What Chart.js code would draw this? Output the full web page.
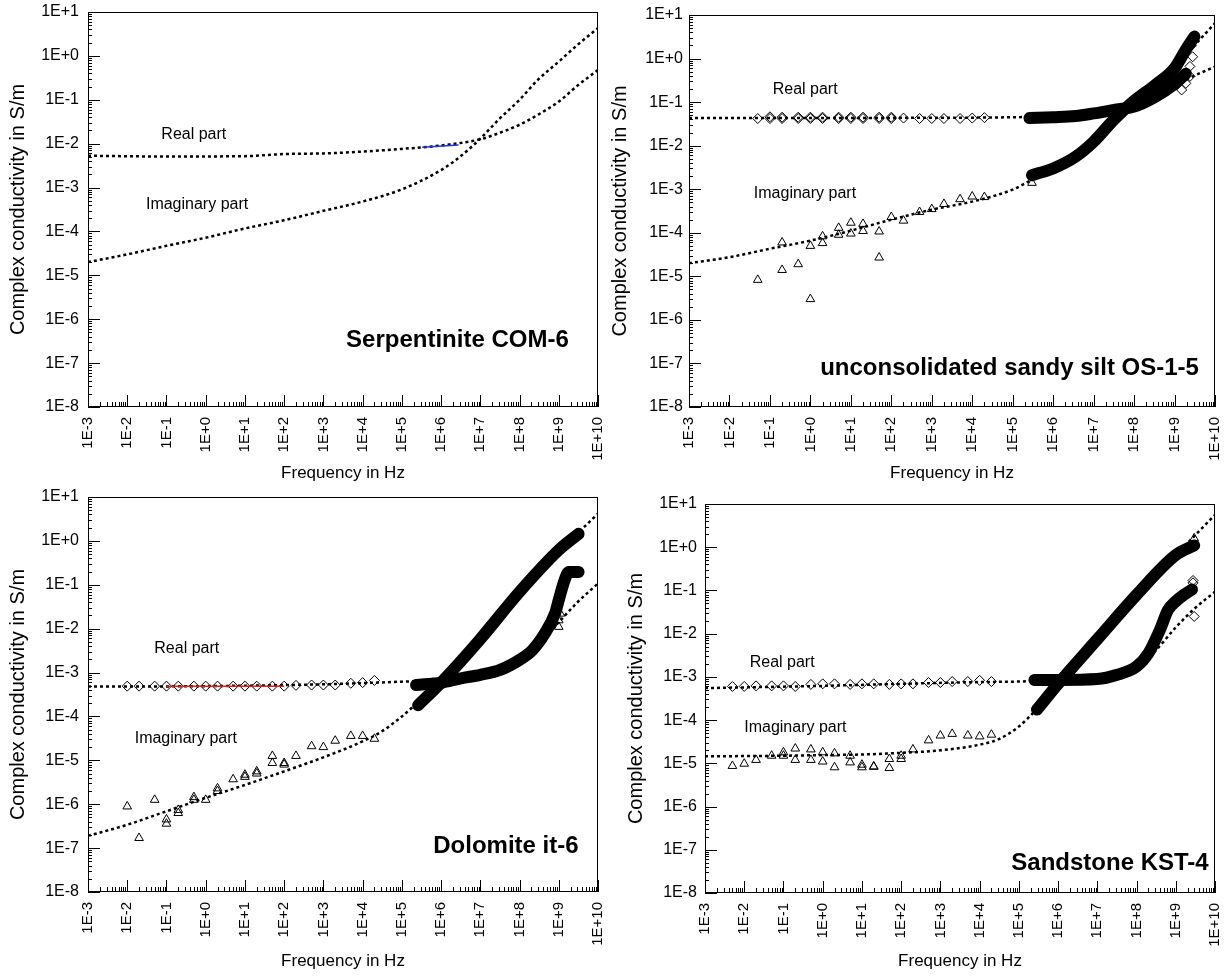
<!DOCTYPE html>
<html>
<head>
<meta charset="utf-8">
<title>Complex conductivity spectra</title>
<script src="https://cdn.jsdelivr.net/npm/chart.js@4.4.1/dist/chart.umd.min.js"></script>
<style>
  html, body { margin: 0; padding: 0; background: #fff; }
  #wrap { position: relative; width: 1229px; height: 977px; overflow: hidden; background: #fff; }
  #wrap canvas { position: absolute; left: 0; top: 0; }
</style>
</head>
<body>
<div id="wrap">
  <canvas id="c-ser" width="1229" height="977"></canvas>
  <canvas id="c-os" width="1229" height="977"></canvas>
  <canvas id="c-dol" width="1229" height="977"></canvas>
  <canvas id="c-kst" width="1229" height="977"></canvas>
</div>
<script>
/* ================================================================
   Complex conductivity vs frequency — four rock samples
   ================================================================ */

// ── Axis ticks ────────────────────────────────────────────────────
const X_DECADES = [1e-3, 1e-2, 1e-1, 1e0, 1e1, 1e2, 1e3, 1e4, 1e5, 1e6, 1e7, 1e8, 1e9, 1e10];
const Y_DECADES = [1e-8, 1e-7, 1e-6, 1e-5, 1e-4, 1e-3, 1e-2, 1e-1, 1e0, 1e1];

// ── Serpentinite COM-6 ────────────────────────────────────────────
const SER_FIT_RE_F = [1e-3, 1e-1, 1e1, 1e2, 1e3, 1e4, 1e5, 1e6, 1e7, 3e7, 1e8, 3e8, 1e9, 3e9, 1e10];
const SER_FIT_RE   = [5.3e-3, 5.1e-3, 5.2e-3, 5.8e-3, 6.0e-3, 6.6e-3, 7.6e-3, 9.1e-3, 1.26e-2, 1.74e-2, 2.7e-2, 4.6e-2, 9.1e-2, 0.21, 0.48];
const SER_FIT_IM_F = [1e-3, 1e-2, 1e-1, 1e0, 1e1, 1e2, 1e3, 1e4, 1e5, 1e6, 3e6, 1e7, 3e7, 1e8, 3e8, 1e9, 3e9, 1e10];
const SER_FIT_IM   = [2.0e-5, 3.0e-5, 4.7e-5, 7.2e-5, 1.17e-4, 1.8e-4, 2.95e-4, 4.8e-4, 9.1e-4, 2.5e-3, 5.0e-3, 1.3e-2, 3.6e-2, 0.1, 0.29, 0.74, 1.78, 4.3];
const SER_MEAS_F   = [3.3e5, 2.8e6];
const SER_MEAS     = [8.3e-3, 9.3e-3];

// ── Unconsolidated sandy silt OS-1-5 ──────────────────────────────
const OS_FREQ      = [0.05, 0.1, 0.2, 0.5, 1, 2, 5, 10, 20, 50, 100, 200, 500, 1000, 2000, 5000, 10000, 20000];
const OS_RE        = [0.042, 0.046, 0.045, 0.045, 0.045, 0.045, 0.045, 0.045, 0.045, 0.045, 0.045, 0.043, 0.042, 0.042, 0.042, 0.042, 0.043, 0.044];
const OS_RE2_F     = [0.1, 0.2, 0.5, 1, 2, 5, 10, 20, 50, 100];
const OS_RE2       = [0.042, 0.042, 0.042, 0.042, 0.042, 0.042, 0.042, 0.042, 0.042, 0.042];
const OS_IM_F      = [0.05, 0.2, 0.5, 1, 2, 5, 10, 20, 50, 100, 200, 500, 1000, 2000, 5000, 10000, 20000, 3.0e5];
const OS_IM        = [8.3e-6, 1.4e-5, 1.9e-5, 3.0e-6, 5.8e-5, 9.0e-5, 9.6e-5, 1.1e-4, 2.7e-5, 2.3e-4, 1.9e-4, 3.0e-4, 3.5e-4, 4.6e-4, 5.9e-4, 6.8e-4, 6.6e-4, 1.4e-3];
const OS_IM2_F     = [0.2, 1, 2, 5, 10, 20, 50];
const OS_IM2       = [6.0e-5, 5.0e-5, 8.3e-5, 1.3e-4, 1.7e-4, 1.6e-4, 1.07e-4];
const OS_BAND_RE_F = [2.6e5, 1e6, 3.6e6, 1e7, 3.2e7, 1e8, 3.2e8, 1e9, 1.9e9];
const OS_BAND_RE   = [0.043, 0.045, 0.048, 0.055, 0.066, 0.079, 0.13, 0.26, 0.45];
const OS_BAND_IM_F = [3.0e5, 1e6, 3.6e6, 1e7, 3.2e7, 1e8, 3.2e8, 1e9, 1.9e9, 3.1e9];
const OS_BAND_IM   = [2.1e-3, 3.0e-3, 5.6e-3, 1.23e-2, 4.0e-2, 0.107, 0.24, 0.60, 1.6, 3.2];
const OS_END_RE_F  = [1.5e9, 1.9e9, 2.4e9, 2.4e9, 2.8e9, 2.6e9];
const OS_END_RE    = [0.19, 0.27, 0.39, 0.66, 1.1, 2.0];
const OS_FIT_RE_F  = [1e-3, 1e4, 1e5, 1e6, 1e7, 3e7, 1e8, 3e8, 1e9, 3e9, 1e10];
const OS_FIT_RE    = [0.043, 0.044, 0.045, 0.047, 0.055, 0.066, 0.089, 0.14, 0.24, 0.40, 0.65];
const OS_FIT_IM_F  = [1e-3, 1e-2, 1e-1, 1e0, 1e1, 1e2, 1e3, 1e4, 1e5, 3e5, 1e6, 1e7, 1e8, 1e9, 1e10];
const OS_FIT_IM    = [2.0e-5, 2.75e-5, 4.3e-5, 6.6e-5, 1.12e-4, 2.0e-4, 3.4e-4, 5.2e-4, 9.8e-4, 1.66e-3, 3.0e-3, 1.35e-2, 7.9e-2, 0.65, 6.5];

// ── Dolomite it-6 ─────────────────────────────────────────────────
const DOL_FREQ      = [0.01, 0.02, 0.05, 0.1, 0.2, 0.5, 1, 2, 5, 10, 20, 50, 100, 200, 500, 1000, 2000, 5000, 10000, 20000];
const DOL_RE        = [4.9e-4, 4.9e-4, 4.9e-4, 4.9e-4, 4.9e-4, 4.9e-4, 4.9e-4, 4.9e-4, 4.9e-4, 4.9e-4, 4.9e-4, 4.9e-4, 4.9e-4, 5.1e-4, 5.2e-4, 5.2e-4, 5.2e-4, 5.7e-4, 5.9e-4, 6.6e-4];
const DOL_IM        = [8.9e-7, 1.7e-7, 1.26e-6, 4.5e-7, 7.4e-7, 1.26e-6, 1.26e-6, 2.3e-6, 3.7e-6, 4.7e-6, 5.6e-6, 1.26e-5, 8.7e-6, 1.26e-5, 2.1e-5, 2.0e-5, 2.8e-5, 3.6e-5, 3.6e-5, 3.1e-5];
const DOL_IM2_F     = [0.1, 0.2, 0.5, 2, 10, 20, 50, 100, 1.0e9, 1.0e9, 1.1e9];
const DOL_IM2       = [3.6e-7, 6.3e-7, 1.45e-6, 2.0e-6, 4.2e-6, 5.0e-6, 8.7e-6, 8.0e-6, 0.011, 0.0155, 0.022];
const DOL_MEAS_F    = [0.1, 100];
const DOL_MEAS      = [4.9e-4, 4.9e-4];
const DOL_BAND_RE_F = [2.3e5, 1e6, 3.2e6, 1e7, 3.2e7, 1e8, 2.1e8, 4.4e8, 8e8, 1e9, 1.4e9, 1.8e9, 3.2e9];
const DOL_BAND_RE   = [5.2e-4, 5.9e-4, 7.4e-4, 8.9e-4, 1.15e-3, 1.95e-3, 3.2e-3, 7.8e-3, 2.2e-2, 4.5e-2, 0.126, 0.195, 0.195];
const DOL_BAND_IM_F = [2.6e5, 1e6, 1e7, 1e8, 1e9, 3.2e9];
const DOL_BAND_IM   = [1.8e-4, 5.9e-4, 5.8e-3, 6.9e-2, 0.62, 1.45];
const DOL_FIT_RE_F  = [1e-3, 1e0, 1e3, 1e4, 1e5, 1e6, 1e7, 3e7, 1e8, 3e8, 1e9, 3e9, 1e10];
const DOL_FIT_RE    = [4.8e-4, 4.9e-4, 5.4e-4, 5.75e-4, 6.2e-4, 6.8e-4, 8.9e-4, 1.26e-3, 2.0e-3, 4.5e-3, 1.4e-2, 4.0e-2, 0.107];
const DOL_FIT_IM_F  = [1e-3, 1e-2, 1e-1, 1e0, 1e1, 1e2, 1e3, 1e4, 3e4, 1e5, 3e5, 1e6, 1e7, 1e8, 1e9, 1e10];
const DOL_FIT_IM    = [1.9e-7, 3.4e-7, 6.9e-7, 1.4e-6, 2.75e-6, 5.6e-6, 1.17e-5, 2.7e-5, 4.5e-5, 1.0e-4, 2.4e-4, 6.8e-4, 6.6e-3, 6.9e-2, 0.56, 4.2];

// ── Sandstone KST-4 ───────────────────────────────────────────────
const KST_FREQ      = [0.005, 0.01, 0.02, 0.05, 0.1, 0.2, 0.5, 1, 2, 5, 10, 20, 50, 100, 200, 500, 1000, 2000, 5000, 10000, 20000];
const KST_RE        = [6.0e-4, 6.0e-4, 6.2e-4, 6.2e-4, 6.2e-4, 6.0e-4, 6.7e-4, 6.9e-4, 6.9e-4, 6.7e-4, 6.9e-4, 6.9e-4, 6.7e-4, 6.9e-4, 6.9e-4, 7.4e-4, 7.4e-4, 7.8e-4, 7.8e-4, 8.3e-4, 7.8e-4];
const KST_IM        = [8.7e-6, 9.8e-6, 1.2e-5, 1.5e-5, 1.5e-5, 2.2e-5, 2.1e-5, 1.8e-5, 1.7e-5, 1.5e-5, 9.3e-6, 8.5e-6, 1.26e-5, 1.5e-5, 2.1e-5, 3.4e-5, 4.4e-5, 4.8e-5, 4.4e-5, 4.2e-5, 4.6e-5];
const KST_IM2_F     = [0.1, 0.2, 0.5, 1, 2, 5, 10, 20, 50, 100];
const KST_IM2       = [1.8e-5, 1.2e-5, 1.2e-5, 1.1e-5, 8.1e-6, 1.05e-5, 8.1e-6, 8.3e-6, 7.8e-6, 1.26e-5];
const KST_BAND_RE_F = [2.5e5, 1e6, 1e7, 3.2e7, 1e8, 2e8, 4e8, 6.3e8, 1e9, 1.6e9, 2.6e9];
const KST_BAND_RE   = [8.5e-4, 8.5e-4, 8.9e-4, 1.12e-3, 1.74e-3, 3.5e-3, 1.26e-2, 3.5e-2, 5.6e-2, 7.9e-2, 0.105];
const KST_BAND_IM_F = [2.9e5, 1e6, 1e7, 1e8, 1e9, 2.95e9];
const KST_BAND_IM   = [1.75e-4, 6.9e-4, 7.4e-3, 7.9e-2, 0.66, 1.1];
const KST_END_RE_F  = [2.75e9, 2.75e9, 2.95e9];
const KST_END_RE    = [0.15, 0.17, 0.025];
const KST_END_IM_F  = [2.95e9];
const KST_END_IM    = [1.6];
const KST_FIT_RE_F  = [1e-3, 1e0, 1e2, 1e4, 1e5, 1e6, 1e7, 1e8, 3e8, 1e9, 3e9, 1e10];
const KST_FIT_RE    = [5.5e-4, 6.2e-4, 6.9e-4, 7.6e-4, 7.8e-4, 8.5e-4, 9.3e-4, 1.74e-3, 4.0e-3, 1.4e-2, 3.8e-2, 9.3e-2];
const KST_FIT_IM_F  = [1e-3, 1e-1, 1e0, 1e1, 1e2, 1e3, 1e4, 3e4, 1e5, 3e5, 1e6, 1e7, 1e8, 1e9, 1e10];
const KST_FIT_IM    = [1.45e-5, 1.5e-5, 1.55e-5, 1.6e-5, 1.75e-5, 2.0e-5, 2.7e-5, 3.6e-5, 7.1e-5, 1.9e-4, 7.2e-4, 7.9e-3, 7.9e-2, 0.66, 5.6];

// ── Helpers ───────────────────────────────────────────────────────
const FONT = '"Liberation Sans", Arial, Helvetica, sans-serif';
Chart.defaults.font.family = FONT;
Chart.defaults.color = "#000";

function pts(xs, ys) {
  return xs.map((x, i) => ({ x, y: ys[i] }));
}

function expLabel(v) {
  const e = Math.round(Math.log10(v));
  return "1E" + (e < 0 ? "-" : "+") + Math.abs(e);
}

function fit(xs, ys) {
  return {
    data: pts(xs, ys), showLine: true, borderColor: "#000", borderWidth: 2.5,
    borderDash: [3, 3], pointRadius: 0, cubicInterpolationMode: "monotone",
  };
}

// dense high-frequency measurements: overlapping markers read as one heavy band
function band(xs, ys) {
  return {
    data: pts(xs, ys), showLine: true, borderColor: "#000", borderWidth: 12,
    borderCapStyle: "round", borderJoinStyle: "round", pointRadius: 0,
    cubicInterpolationMode: "monotone",
  };
}

function meas(xs, ys, color) {
  return { data: pts(xs, ys), showLine: true, borderColor: color, borderWidth: 1.5, pointRadius: 0 };
}

function marks(xs, ys, style) {
  return {
    data: pts(xs, ys), showLine: false, pointStyle: style, pointRadius: 5,
    pointBorderWidth: 1, pointBorderColor: "#000", pointBackgroundColor: "rgba(0,0,0,0)",
  };
}

// ── Frame, inward ticks and in-plot labels ────────────────────────
const frameTicks = {
  id: "frameTicks",
  afterDatasetsDraw(chart, args, opts) {
    const { ctx, chartArea: a, scales: { x, y } } = chart;
    ctx.save();
    ctx.strokeStyle = "#000";
    ctx.lineWidth = 1;
    ctx.strokeRect(a.left + 0.5, a.top + 0.5, a.right - a.left - 1, a.bottom - a.top - 1);

    ctx.beginPath();
    for (let e = -3; e <= 10; e++) {
      for (let m = 1; m <= 9; m++) {
        const v = m * Math.pow(10, e);
        if (v > 1e10 * 1.0001) break;
        const px = Math.round(x.getPixelForValue(v)) + 0.5;
        const len = m === 1 ? 12 : 5;
        ctx.moveTo(px, a.bottom);
        ctx.lineTo(px, a.bottom - len);
      }
    }
    for (let e = -8; e <= 1; e++) {
      for (let m = 1; m <= 9; m++) {
        const v = m * Math.pow(10, e);
        if (v > 10 * 1.0001) break;
        const py = Math.round(y.getPixelForValue(v)) + 0.5;
        const len = m === 1 ? 12 : 4;
        ctx.moveTo(a.left, py);
        ctx.lineTo(a.left + len, py);
      }
    }
    ctx.stroke();

    ctx.fillStyle = "#000";
    ctx.textBaseline = "middle";
    (opts.labels || []).forEach((l) => {
      ctx.font = (l.bold ? "bold " : "") + l.size + "px " + FONT;
      ctx.textAlign = l.align;
      ctx.fillText(l.text, x.getPixelForValue(l.x), y.getPixelForValue(l.y));
    });
    ctx.restore();
  },
};

// ── Panel builder ─────────────────────────────────────────────────
function makePanel(id, p) {
  const yw = p.area.left - p.padLeft;
  new Chart(document.getElementById(id), {
    type: "scatter",
    data: { datasets: p.datasets },
    options: {
      responsive: false,
      animation: false,
      events: [],
      layout: {
        padding: {
          left: p.padLeft,
          top: p.area.top,
          right: 1229 - p.area.right,
          bottom: 977 - p.area.bottom - p.xh,
        },
      },
      plugins: {
        legend: { display: false },
        tooltip: { enabled: false },
        frameTicks: { labels: p.labels },
      },
      scales: {
        x: {
          type: "logarithmic",
          position: "bottom",
          min: 1e-3,
          max: 1e10,
          grid: { display: false, drawTicks: false },
          border: { display: false },
          afterBuildTicks: (s) => { s.ticks = X_DECADES.map((v) => ({ value: v })); },
          afterFit: (s) => { s.height = p.xh; s.paddingLeft = 0; s.paddingRight = 0; },
          ticks: {
            autoSkip: false, minRotation: 90, maxRotation: 90, padding: 10,
            color: "#000", font: { size: 15 }, callback: (v) => expLabel(v),
          },
          title: {
            display: true, text: "Frequency in Hz", color: "#000",
            font: { size: 17 }, padding: { top: 0, bottom: 0 },
          },
        },
        y: {
          type: "logarithmic",
          position: "left",
          min: 1e-8,
          max: 10,
          grid: { display: false, drawTicks: false },
          border: { display: false },
          afterBuildTicks: (s) => { s.ticks = Y_DECADES.map((v) => ({ value: v })); },
          afterFit: (s) => { s.width = yw; s.paddingTop = 0; s.paddingBottom = 0; },
          ticks: {
            autoSkip: false, padding: p.yTickPad,
            color: "#000", font: { size: 16 }, callback: (v) => expLabel(v),
          },
          title: {
            display: true, text: "Complex conductivity in S/m", color: "#000",
            font: { size: 20 }, padding: { top: p.yTitlePad, bottom: 0 },
          },
        },
      },
    },
    plugins: [frameTicks],
  });
}

// ── Panels ────────────────────────────────────────────────────────
makePanel("c-ser", {
  area: { left: 88, top: 12, right: 598, bottom: 407 },
  padLeft: 0, yTitlePad: 6, yTickPad: 9, xh: 77,
  datasets: [
    meas(SER_MEAS_F, SER_MEAS, "#2233dd"),
    fit(SER_FIT_RE_F, SER_FIT_RE),
    fit(SER_FIT_IM_F, SER_FIT_IM),
  ],
  labels: [
    { text: "Real part", x: 0.074, y: 0.0158, align: "left", size: 16 },
    { text: "Imaginary part", x: 0.030, y: 4.0e-4, align: "left", size: 16 },
    { text: "Serpentinite COM-6", x: 1.8e9, y: 3.3e-7, align: "right", size: 24, bold: true },
  ],
});

makePanel("c-os", {
  area: { left: 689, top: 15, right: 1215, bottom: 407 },
  padLeft: 600, yTitlePad: 8, yTickPad: 6, xh: 77,
  datasets: [
    marks(OS_FREQ, OS_RE, "rectRot"),
    marks(OS_RE2_F, OS_RE2, "rectRot"),
    marks(OS_END_RE_F, OS_END_RE, "rectRot"),
    marks(OS_IM_F, OS_IM, "triangle"),
    marks(OS_IM2_F, OS_IM2, "triangle"),
    band(OS_BAND_RE_F, OS_BAND_RE),
    band(OS_BAND_IM_F, OS_BAND_IM),
    fit(OS_FIT_RE_F, OS_FIT_RE),
    fit(OS_FIT_IM_F, OS_FIT_IM),
  ],
  labels: [
    { text: "Real part", x: 0.117, y: 0.19, align: "left", size: 16 },
    { text: "Imaginary part", x: 0.04, y: 7.8e-4, align: "left", size: 16 },
    { text: "unconsolidated sandy silt OS-1-5", x: 4e9, y: 7.9e-8, align: "right", size: 24, bold: true },
  ],
});

makePanel("c-dol", {
  area: { left: 88, top: 497, right: 598, bottom: 892 },
  padLeft: 0, yTitlePad: 6, yTickPad: 9, xh: 80,
  datasets: [
    meas(DOL_MEAS_F, DOL_MEAS, "#e02020"),
    marks(DOL_FREQ, DOL_RE, "rectRot"),
    marks(DOL_FREQ, DOL_IM, "triangle"),
    marks(DOL_IM2_F, DOL_IM2, "triangle"),
    band(DOL_BAND_RE_F, DOL_BAND_RE),
    band(DOL_BAND_IM_F, DOL_BAND_IM),
    fit(DOL_FIT_RE_F, DOL_FIT_RE),
    fit(DOL_FIT_IM_F, DOL_FIT_IM),
  ],
  labels: [
    { text: "Real part", x: 0.049, y: 3.5e-3, align: "left", size: 16 },
    { text: "Imaginary part", x: 0.0155, y: 3.2e-5, align: "left", size: 16 },
    { text: "Dolomite it-6", x: 3.2e9, y: 1.1e-7, align: "right", size: 24, bold: true },
  ],
});

makePanel("c-kst", {
  area: { left: 705, top: 504, right: 1215, bottom: 893 },
  padLeft: 600, yTitlePad: 24, yTickPad: 8, xh: 79,
  datasets: [
    marks(KST_FREQ, KST_RE, "rectRot"),
    marks(KST_END_RE_F, KST_END_RE, "rectRot"),
    marks(KST_FREQ, KST_IM, "triangle"),
    marks(KST_IM2_F, KST_IM2, "triangle"),
    marks(KST_END_IM_F, KST_END_IM, "triangle"),
    band(KST_BAND_RE_F, KST_BAND_RE),
    band(KST_BAND_IM_F, KST_BAND_IM),
    fit(KST_FIT_RE_F, KST_FIT_RE),
    fit(KST_FIT_IM_F, KST_FIT_IM),
  ],
  labels: [
    { text: "Real part", x: 0.0138, y: 2.1e-3, align: "left", size: 16 },
    { text: "Imaginary part", x: 0.01, y: 6.6e-5, align: "left", size: 16 },
    { text: "Sandstone KST-4", x: 6.9e9, y: 4.9e-8, align: "right", size: 24, bold: true },
  ],
});
</script>
</body>
</html>
